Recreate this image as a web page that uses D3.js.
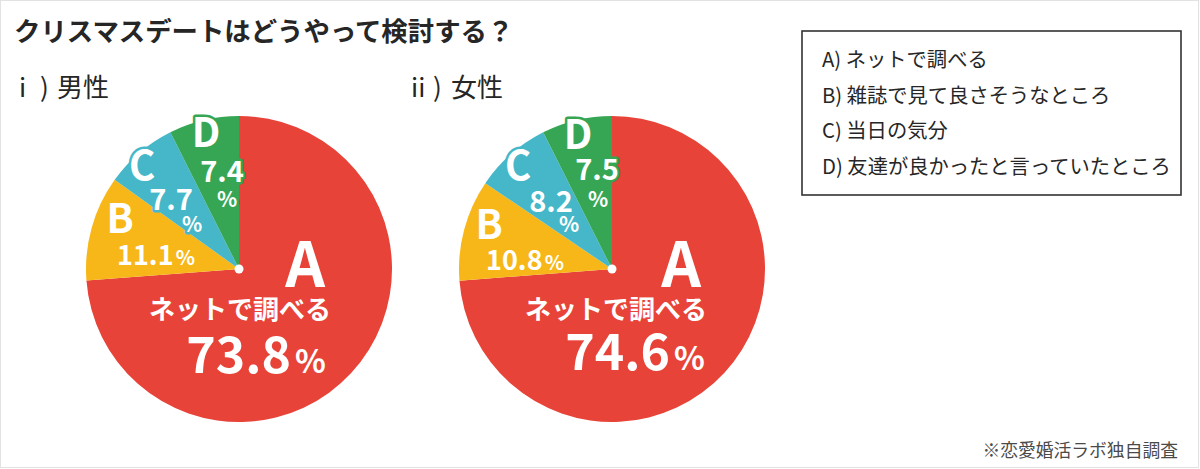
<!DOCTYPE html>
<html>
<head>
<meta charset="utf-8">
<script src="https://cdn.jsdelivr.net/npm/d3@7"></script>
<style>
  html, body { margin: 0; padding: 0; background: #fff; }
  svg { display: block; font-family: "Noto Sans CJK JP", "Noto Sans", sans-serif; }
</style>
</head>
<body>
<div id="chart"></div>
<script>
// data
const categories = ["A", "B", "C", "D"];
const answers = ["ネットで調べる", "雑誌で見て良さそうなところ", "当日の気分", "友達が良かったと言っていたところ"];
const groupNums = ["i", "ii"];
const groupNames = ["男性", "女性"];
const maleValues = [73.8, 11.1, 7.7, 7.4];
const femaleValues = [74.6, 10.8, 8.2, 7.5];
const title = "クリスマスデートはどうやって検討する？";
const source = "※恋愛婚活ラボ独自調査";

const colors = ["#e84338", "#f8b719", "#45b7c8", "#36a654"];

// label offsets from pie centre (x, baseline)
const maleLayout = [
  { letter: [66, 18], name: [1, 50], value: [17, 104] },
  { letter: [-119, -36], value: [-83, -4] },
  { letter: [-97, -89], value: [-68, -59], pct: [-47, -37] },
  { letter: [-33, -122], value: [-17, -87], pct: [-12, -62] }
];
const femaleLayout = [
  { letter: [69, 18], name: [4, 50], value: [23, 101] },
  { letter: [-123, -30], value: [-87, 1] },
  { letter: [-94, -89], value: [-61, -57], pct: [-43, -37] },
  { letter: [-34, -120], value: [-15, -89], pct: [-14, -62] }
];
const letterSize = [62, 40, 40, 40];
const valueSize = [50, 27, 29, 29];
const pctSize = [32, 20, 21, 21];

const W = 1200, H = 469;
const svg = d3.select("#chart").append("svg")
  .attr("width", W).attr("height", H);

svg.append("rect")
  .attr("x", 0.5).attr("y", 0.5)
  .attr("width", W - 2).attr("height", H - 2)
  .attr("fill", "#fff").attr("stroke", "#e2e2e2");

svg.append("text")
  .attr("x", 14).attr("y", 41)
  .attr("font-size", 26.4).attr("font-weight", 700)
  .attr("fill", "#262626")
  .text(title);

const pie = d3.pie().sort(null).value(d => d);
const radius = 153;
const arc = d3.arc().innerRadius(0).outerRadius(radius);

const pies = [
  { values: maleValues, layout: maleLayout, cx: 239, cy: 269, tx: [19, 40, 57] },
  { values: femaleValues, layout: femaleLayout, cx: 612, cy: 269, tx: [411, 433, 451] }
];

pies.forEach((p, gi) => {
  const head = svg.append("text")
    .attr("y", 97)
    .attr("font-size", 26)
    .attr("fill", "#262626");
  head.append("tspan").attr("x", p.tx[0]).text(groupNums[gi]);
  head.append("tspan").attr("x", p.tx[1]).text(")");
  head.append("tspan").attr("x", p.tx[2]).text(groupNames[gi]);

  const g = svg.append("g").attr("transform", `translate(${p.cx},${p.cy})`);

  g.selectAll("path")
    .data(pie(p.values))
    .join("path")
    .attr("d", arc)
    .attr("fill", (d, i) => colors[i]);

  g.append("circle").attr("r", 4.5).attr("fill", "#fff");

  // labels, outlined in slice colour so they read where they cross edges
  const outlined = (sel, i) => sel
    .attr("fill", "#fff")
    .attr("stroke", colors[i])
    .attr("stroke-width", 5)
    .attr("stroke-linejoin", "round")
    .attr("paint-order", "stroke")
    .attr("font-weight", 700)
    .attr("text-anchor", "middle");

  p.values.forEach((v, i) => {
    const L = p.layout[i];
    g.append("text")
      .attr("x", L.letter[0]).attr("y", L.letter[1])
      .attr("font-size", letterSize[i])
      .call(outlined, i)
      .text(categories[i]);

    if (L.name) {
      g.append("text")
        .attr("x", L.name[0]).attr("y", L.name[1])
        .attr("font-size", 26)
        .call(outlined, i)
        .text(answers[i]);
    }

    const t = g.append("text")
      .attr("x", L.value[0]).attr("y", L.value[1])
      .attr("font-size", valueSize[i])
      .call(outlined, i);
    t.append("tspan").text(v.toFixed(1));

    if (L.pct) {
      g.append("text")
        .attr("x", L.pct[0]).attr("y", L.pct[1])
        .attr("font-size", pctSize[i])
        .call(outlined, i)
        .text("%");
    } else {
      t.append("tspan")
        .attr("dx", valueSize[i] * 0.08)
        .attr("font-size", pctSize[i])
        .text("%");
    }
  });
});

// legend box
const legend = svg.append("g").attr("transform", "translate(802,31)");
legend.append("rect")
  .attr("width", 379).attr("height", 164)
  .attr("fill", "none")
  .attr("stroke", "#333").attr("stroke-width", 1.6);

legend.selectAll("text")
  .data(categories)
  .join("text")
  .attr("x", 20)
  .attr("y", (d, i) => 36 + i * 35.5)
  .attr("font-size", 20.3)
  .attr("fill", "#262626")
  .text((d, i) => `${d}) ${answers[i]}`);

svg.append("text")
  .attr("x", 1178).attr("y", 457)
  .attr("text-anchor", "end")
  .attr("font-size", 17.8)
  .attr("fill", "#4a4a4a")
  .text(source);
</script>
</body>
</html>
